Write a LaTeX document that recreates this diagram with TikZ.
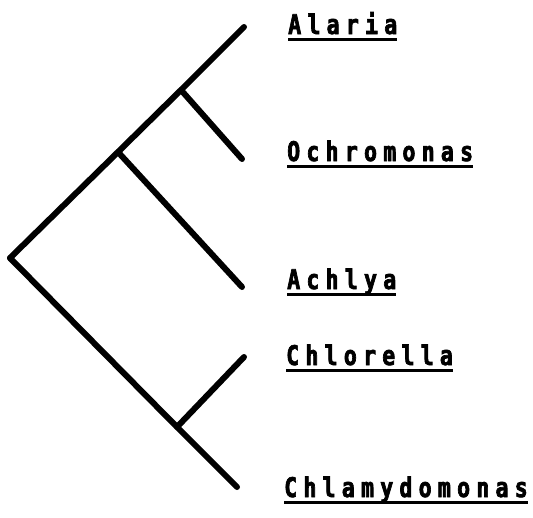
\documentclass[tikz,border=0pt]{standalone}
\usepackage{fontspec}
\newfontfamily\taxonfont[FakeStretch=0.8,FakeBold=2.5,LetterSpace=23]{DejaVu Sans Mono Bold}
\begin{document}
\begin{tikzpicture}[x=1pt,y=-1pt,
  branch/.style={line width=6pt,line cap=round,line join=round},
  taxon/.style={anchor=base west,inner sep=0pt,font=\taxonfont\fontsize{27}{27}\selectfont},
  uline/.style={line width=3.5pt}]
\useasboundingbox (0,0) rectangle (533,517);
% internal vertices of the tree
\coordinate (root) at (10,258);
\coordinate (nA) at (181,90);
\coordinate (nB) at (118,152);
\coordinate (nC) at (177,427);
% leaf tips
\coordinate (tAlaria) at (244,27);
\coordinate (tOchro) at (242,159);
\coordinate (tAchlya) at (242,287);
\coordinate (tChlorella) at (244,357);
\coordinate (tChlamy) at (237,487);
% branches
\draw[branch] (root) -- (nB) -- (nA) -- (tAlaria);
\draw[branch] (nA) -- (tOchro);
\draw[branch] (nB) -- (tAchlya);
\draw[branch] (root) -- (nC) -- (tChlamy);
\draw[branch] (nC) -- (tChlorella);
% taxon names
\node[taxon] (lAlaria) at (288,34) {Alaria};
\node[taxon] (lOchro) at (287,161) {Ochromonas};
\node[taxon] (lAchlya) at (287,289) {Achlya};
\node[taxon] (lChlorella) at (286,365) {Chlorella};
\node[taxon] (lChlamy) at (284,497) {Chlamydomonas};
\foreach \n in {lAlaria,lOchro,lAchlya,lChlorella,lChlamy}
  \draw[uline] ([yshift=-5.5pt]\n.base west) -- ([yshift=-5.5pt]\n.base east);
\end{tikzpicture}
\end{document}
